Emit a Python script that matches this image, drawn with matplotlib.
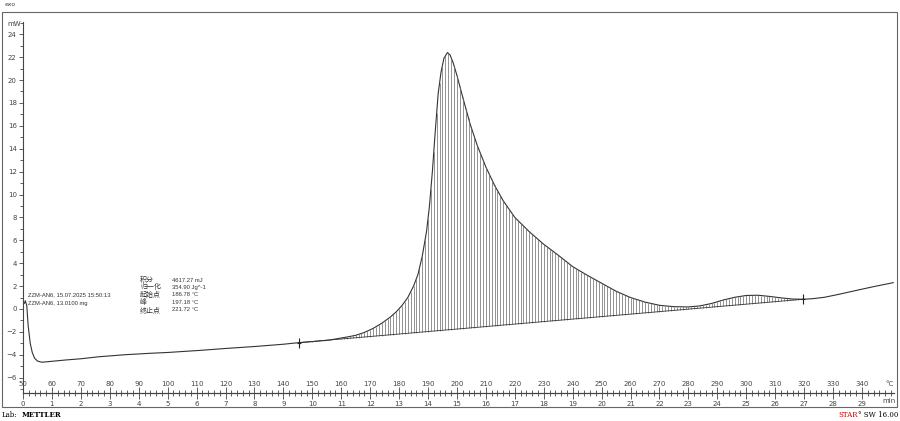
import numpy as np
import matplotlib
matplotlib.use('Agg')
import matplotlib.pyplot as plt
from matplotlib.ticker import MultipleLocator, FixedLocator
from matplotlib.patches import Rectangle

plt.rcParams['font.family'] = ['DejaVu Sans', 'Noto Sans CJK SC']

# DSC curve, temperature (°C) vs heat flow (mW)
temp = [50.5, 50.8, 51.3, 51.8, 52.5, 53.2, 54.0, 55.0, 56.5, 58, 60, 65, 70, 76, 85,
        94, 100, 111, 120, 130, 140, 145.4, 150, 156, 162, 165, 168, 171, 174, 177, 179,
        181, 183, 185, 186.5, 188, 189.5, 190.5, 191.5, 192.5, 193.5, 194.5, 195.5,
        196.7, 197.6, 198.7, 200, 202, 204.5, 207, 210, 213, 216, 220, 225, 230, 235,
        240, 245, 250, 255, 260, 265, 270, 275, 280, 284, 288, 292, 296, 300, 304, 308,
        312, 316, 319.7, 323, 327, 332, 338, 344, 350.8]
heat_flow = [0.5, 0.72, 0.3, -1.5, -3.0, -3.8, -4.3, -4.55, -4.65, -4.62, -4.57, -4.45,
             -4.35, -4.18, -4.0, -3.87, -3.8, -3.62, -3.45, -3.28, -3.08, -2.94, -2.85,
             -2.71, -2.45, -2.3, -2.05, -1.7, -1.25, -0.7, -0.25, 0.3, 1.0, 2.0, 3.0,
             4.6, 6.8, 9.0, 12.0, 15.5, 18.8, 20.7, 21.9, 22.4, 22.2, 21.5, 20.4, 18.5,
             16.2, 14.3, 12.4, 10.8, 9.45, 8.0, 6.75, 5.65, 4.7, 3.7, 2.95, 2.25, 1.55,
             1.0, 0.6, 0.32, 0.2, 0.18, 0.27, 0.48, 0.78, 1.02, 1.18, 1.2, 1.1, 0.97,
             0.87, 0.85, 0.9, 1.02, 1.28, 1.62, 1.95, 2.3]

# integration limits
limits_T = [145.4, 319.7]
limits_mW = [-2.94, 0.85]

result_labels = ['积分', '归一化', '起始点', '峰', '终止点']
result_values = ['4617.27 mJ', '354.90 Jg^-1', '186.78 °C', '197.18 °C', '221.72 °C']
sample_lines = ['ZZM-AN6, 15.07.2025 15:50:13', 'ZZM-AN6, 13.0100 mg']

W, H = 900, 421
def fx(px):
    return px / W
def fy(py):
    return 1 - py / H

fig = plt.figure(figsize=(9, 4.21), dpi=100)
ax = fig.add_axes([fx(23), fy(393), fx(893.8) - fx(23), fy(22) - fy(393)])

gray = '#444444'
ax.plot(temp, heat_flow, color='#333333', lw=0.8)

# hatched integration area
xs = np.arange(146, 320, 1.0)
curve = np.interp(xs, temp, heat_flow)
base = np.interp(xs, limits_T, limits_mW)
ax.vlines(xs, base, curve, color='#666666', lw=0.5)
ax.plot(limits_T, limits_mW, color='#333333', lw=0.6)
ax.plot(limits_T, limits_mW, ls='none', marker='|', ms=7, mew=0.8, color='#222222')
ax.plot(limits_T, limits_mW, ls='none', marker='_', ms=3, mew=0.8, color='#222222')

ax.set_xlim(50, 351)
ax.set_ylim(-7.34, 25.07)

for s in ['top', 'right']:
    ax.spines[s].set_visible(False)
for s in ['left', 'bottom']:
    ax.spines[s].set_color(gray)
    ax.spines[s].set_linewidth(0.8)

ax.yaxis.set_major_locator(FixedLocator(range(-6, 25, 2)))
ax.yaxis.set_minor_locator(MultipleLocator(1))
ax.tick_params(axis='y', which='major', direction='out', length=3, labelsize=5,
               colors=gray, pad=1.5, width=0.6)
ax.tick_params(axis='y', which='minor', direction='out', length=2, colors=gray, width=0.6)

# temperature axis, labels above the line
ax.xaxis.set_major_locator(FixedLocator(range(50, 341, 10)))
ax.xaxis.set_minor_locator(MultipleLocator(2))
ax.tick_params(axis='x', which='major', direction='in', length=4, labelsize=5,
               colors=gray, pad=-8.5, width=0.6)
ax.tick_params(axis='x', which='minor', direction='in', length=2, colors=gray, width=0.6)

# time axis, labels below the line
secax = ax.secondary_xaxis('bottom', functions=(lambda T: (T - 50) / 10, lambda t: t * 10 + 50))
secax.xaxis.set_major_locator(FixedLocator(range(0, 30)))
secax.xaxis.set_minor_locator(MultipleLocator(0.2))
secax.tick_params(axis='x', which='major', direction='out', length=4, labelsize=5,
                  colors=gray, pad=2, width=0.6)
secax.tick_params(axis='x', which='minor', direction='out', length=2, colors=gray, width=0.6)
secax.spines['bottom'].set_color(gray)
secax.spines['bottom'].set_linewidth(0.8)

fig.text(fx(14), fy(24), 'mW', fontsize=5, color=gray, ha='center', va='center')
fig.text(fx(889), fy(384), '°C', fontsize=5, color=gray, ha='center', va='center')
fig.text(fx(889), fy(401), 'min', fontsize=5, color=gray, ha='center', va='center')
fig.text(fx(5), fy(5), 'exo', fontsize=4.5, color=gray, ha='left', va='center')

for i, line in enumerate(sample_lines):
    fig.text(fx(28), fy(295 + 8 * i), line, fontsize=4.2, family='Liberation Sans',
             color='#333333', ha='left', va='center')

for i, (lab, val) in enumerate(zip(result_labels, result_values)):
    y = fy(280 + 7.4 * i)
    fig.text(fx(140), y, lab, fontsize=5, family=['Noto Sans CJK SC', 'DejaVu Sans'],
             color='#333333', ha='left', va='center')
    fig.text(fx(172), y, val, fontsize=4.2, family='Liberation Sans',
             color='#333333', ha='left', va='center')

fig.add_artist(Rectangle((fx(2), fy(407)), fx(897) - fx(2), fy(12) - fy(407),
                         transform=fig.transFigure, fill=False, lw=0.8, ec='#666666'))

fig.text(fx(2), fy(415), 'Lab:', fontsize=5, family='DejaVu Serif', ha='left', va='center')
fig.text(fx(22), fy(415), 'METTLER', fontsize=5, family='DejaVu Serif', weight='bold',
         ha='left', va='center')
sw = fig.text(fx(898), fy(415), '° SW 16.00', fontsize=5, family='DejaVu Serif',
              ha='right', va='center')
fig.canvas.draw()
left_px = sw.get_window_extent().x0
fig.text(left_px / W, fy(415), 'STAR', fontsize=5, family='DejaVu Serif', color='#cc0000',
         ha='right', va='center')

fig.savefig('out.png', dpi=100)
